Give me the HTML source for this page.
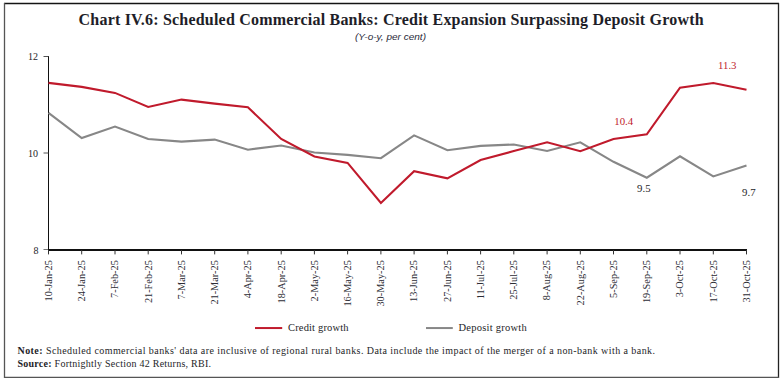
<!DOCTYPE html>
<html><head><meta charset="utf-8"><style>
html,body{margin:0;padding:0;background:#fff;}
body{width:782px;height:382px;overflow:hidden;position:relative;}
svg{position:absolute;left:0;top:0;}
text{font-family:"Liberation Serif",serif;}
</style></head><body>
<svg width="782" height="382" viewBox="0 0 782 382">
<g stroke-width="1.3"><line x1="4" y1="3.5" x2="779" y2="3.5" stroke="#141414"/><line x1="778.5" y1="3" x2="778.5" y2="378" stroke="#222"/><line x1="4.5" y1="3" x2="4.5" y2="378" stroke="#555"/><line x1="4" y1="377.3" x2="779" y2="377.3" stroke="#555"/></g>
<text x="78.6" y="24.7" font-weight="bold" font-size="16" fill="#1e1e28" textLength="625" lengthAdjust="spacing">Chart IV.6: Scheduled Commercial Banks: Credit Expansion Surpassing Deposit Growth</text>
<text x="355" y="40" font-style="italic" font-size="9.2" fill="#2a2a3a" style="font-family:'Liberation Sans',sans-serif" textLength="71" lengthAdjust="spacingAndGlyphs">(Y-o-y, per cent)</text>
<g stroke="#111" stroke-width="1" fill="none">
<line x1="48.5" y1="56" x2="48.5" y2="250"/>
<line x1="43.5" y1="56.5" x2="48.5" y2="56.5" stroke="#555"/>
<line x1="43.5" y1="153" x2="48.5" y2="153" stroke="#555"/>
<line x1="43.5" y1="249.5" x2="48.5" y2="249.5" stroke="#777"/>
</g>
<line x1="48" y1="249.95" x2="747" y2="249.95" stroke="#111" stroke-width="2"/>
<g stroke="#333" stroke-width="1"><line x1="48.5" y1="250" x2="48.5" y2="254.4"/><line x1="81.7" y1="250" x2="81.7" y2="254.4"/><line x1="115.0" y1="250" x2="115.0" y2="254.4"/><line x1="148.2" y1="250" x2="148.2" y2="254.4"/><line x1="181.5" y1="250" x2="181.5" y2="254.4"/><line x1="214.7" y1="250" x2="214.7" y2="254.4"/><line x1="247.9" y1="250" x2="247.9" y2="254.4"/><line x1="281.2" y1="250" x2="281.2" y2="254.4"/><line x1="314.4" y1="250" x2="314.4" y2="254.4"/><line x1="347.6" y1="250" x2="347.6" y2="254.4"/><line x1="380.9" y1="250" x2="380.9" y2="254.4"/><line x1="414.1" y1="250" x2="414.1" y2="254.4"/><line x1="447.4" y1="250" x2="447.4" y2="254.4"/><line x1="480.6" y1="250" x2="480.6" y2="254.4"/><line x1="513.8" y1="250" x2="513.8" y2="254.4"/><line x1="547.1" y1="250" x2="547.1" y2="254.4"/><line x1="580.3" y1="250" x2="580.3" y2="254.4"/><line x1="613.5" y1="250" x2="613.5" y2="254.4"/><line x1="646.8" y1="250" x2="646.8" y2="254.4"/><line x1="680.0" y1="250" x2="680.0" y2="254.4"/><line x1="713.3" y1="250" x2="713.3" y2="254.4"/><line x1="746.5" y1="250" x2="746.5" y2="254.4"/></g>
<g font-size="10" fill="#1e1e28" text-anchor="end">
<text x="38" y="60">12</text>
<text x="38" y="157">10</text>
<text x="38.5" y="254">8</text>
</g>
<g font-size="10.3" fill="#2c2c34"><text transform="translate(51.8,260.2) rotate(-90)" text-anchor="end">10-Jan-25</text><text transform="translate(85.0,260.2) rotate(-90)" text-anchor="end">24-Jan-25</text><text transform="translate(118.3,260.2) rotate(-90)" text-anchor="end">7-Feb-25</text><text transform="translate(151.5,260.2) rotate(-90)" text-anchor="end">21-Feb-25</text><text transform="translate(184.8,260.2) rotate(-90)" text-anchor="end">7-Mar-25</text><text transform="translate(218.0,260.2) rotate(-90)" text-anchor="end">21-Mar-25</text><text transform="translate(251.2,260.2) rotate(-90)" text-anchor="end">4-Apr-25</text><text transform="translate(284.5,260.2) rotate(-90)" text-anchor="end">18-Apr-25</text><text transform="translate(317.7,260.2) rotate(-90)" text-anchor="end">2-May-25</text><text transform="translate(350.9,260.2) rotate(-90)" text-anchor="end">16-May-25</text><text transform="translate(384.2,260.2) rotate(-90)" text-anchor="end">30-May-25</text><text transform="translate(417.4,260.2) rotate(-90)" text-anchor="end">13-Jun-25</text><text transform="translate(450.7,260.2) rotate(-90)" text-anchor="end">27-Jun-25</text><text transform="translate(483.9,260.2) rotate(-90)" text-anchor="end">11-Jul-25</text><text transform="translate(517.1,260.2) rotate(-90)" text-anchor="end">25-Jul-25</text><text transform="translate(550.4,260.2) rotate(-90)" text-anchor="end">8-Aug-25</text><text transform="translate(583.6,260.2) rotate(-90)" text-anchor="end">22-Aug-25</text><text transform="translate(616.8,260.2) rotate(-90)" text-anchor="end">5-Sep-25</text><text transform="translate(650.1,260.2) rotate(-90)" text-anchor="end">19-Sep-25</text><text transform="translate(683.3,260.2) rotate(-90)" text-anchor="end">3-Oct-25</text><text transform="translate(716.6,260.2) rotate(-90)" text-anchor="end">17-Oct-25</text><text transform="translate(749.8,260.2) rotate(-90)" text-anchor="end">31-Oct-25</text></g>
<polyline points="48.5,112.8 81.7,138.1 115.0,126.6 148.2,139.0 181.5,141.6 214.7,139.6 247.9,149.7 281.2,145.5 314.4,152.5 347.6,154.9 380.9,158.2 414.1,135.4 447.4,150.2 480.6,145.9 513.8,144.5 547.1,151.0 580.3,142.3 613.5,161.8 646.8,177.7 680.0,156.3 713.3,176.4 746.5,165.6" fill="none" stroke="#878787" stroke-width="2.1" stroke-linejoin="miter"/>
<polyline points="48.5,82.9 81.7,86.9 115.0,92.9 148.2,107.0 181.5,99.6 214.7,103.6 247.9,107.3 281.2,138.9 314.4,156.5 347.6,162.9 380.9,202.9 414.1,171.2 447.4,178.4 480.6,160.1 513.8,151.1 547.1,142.3 580.3,151.2 613.5,139.0 646.8,134.3 680.0,87.7 713.3,83.0 746.5,89.8" fill="none" stroke="#c01a2c" stroke-width="2.1" stroke-linejoin="miter"/>
<g font-size="10.8">
<text x="614.3" y="125" fill="#c01a2c">10.4</text>
<text x="718" y="69" fill="#c01a2c">11.3</text>
<text x="637.1" y="192.2" fill="#1e1e28">9.5</text>
<text x="742.1" y="195.8" fill="#1e1e28">9.7</text>
</g>
<line x1="255" y1="328.05" x2="282.2" y2="328.05" stroke="#c01a2c" stroke-width="2"/>
<text x="288" y="330.8" font-size="10.5" fill="#1e1e28" textLength="60.5" lengthAdjust="spacing">Credit growth</text>
<line x1="426" y1="328.05" x2="452.8" y2="328.05" stroke="#878787" stroke-width="2"/>
<text x="458.5" y="330.8" font-size="10.5" fill="#1e1e28" textLength="68.2" lengthAdjust="spacing">Deposit growth</text>
<text x="17.5" y="353.8" font-size="10" fill="#1e1e28" textLength="637.5" lengthAdjust="spacing"><tspan font-weight="bold">Note:</tspan> Scheduled commercial banks' data are inclusive of regional rural banks. Data include the impact of the merger of a non-bank with a bank.</text>
<text x="17.5" y="366.7" font-size="10" fill="#1e1e28" textLength="193.5" lengthAdjust="spacing"><tspan font-weight="bold">Source:</tspan> Fortnightly Section 42 Returns, RBI.</text>
</svg>
</body></html>
